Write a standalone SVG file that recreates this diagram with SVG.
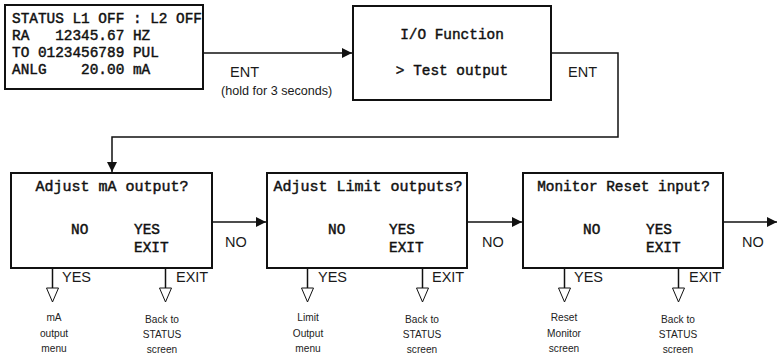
<svg xmlns="http://www.w3.org/2000/svg" width="778" height="357" viewBox="0 0 778 357">
<style>
.mono{font-family:"Liberation Mono","Courier New",monospace;font-size:14.4px;fill:#111;stroke:#111;stroke-width:0.45;white-space:pre}
.box{fill:#fff;stroke:#111;stroke-width:2}
.lbl{font-family:"Liberation Sans",Arial,sans-serif;font-size:14.5px;fill:#1a1a1a}
.sm{font-family:"Liberation Sans",Arial,sans-serif;font-size:11.8px;fill:#222;text-anchor:middle}
.ln{fill:none;stroke:#111;stroke-width:1.5}
.tri{fill:#fff;stroke:#111;stroke-width:1}
</style>
<defs>
<marker id="ah" markerWidth="10" markerHeight="10" refX="10" refY="5" orient="auto" markerUnits="userSpaceOnUse">
<path d="M0,0 L10,5 L0,10 Z" fill="#111"/>
</marker>
</defs>
<rect width="778" height="357" fill="#fff"/>
<g id="connectors">
<path class="ln" d="M203,53 H352" marker-end="url(#ah)"/>
<path class="ln" d="M551,53 H618 V137 H112 V172" marker-end="url(#ah)"/>
<path class="ln" d="M212,222 H266" marker-end="url(#ah)"/>
<path class="ln" d="M467,222 H522" marker-end="url(#ah)"/>
<path class="ln" d="M723,222 H777" marker-end="url(#ah)"/>
<text class="lbl" x="230" y="77">ENT</text>
<text class="lbl" x="221" y="95" style="font-size:12.6px">(hold for 3 seconds)</text>
<text class="lbl" x="568" y="77">ENT</text>
<text class="lbl" x="225" y="247">NO</text>
<text class="lbl" x="482" y="247">NO</text>
<text class="lbl" x="742" y="247">NO</text>
<path class="ln" d="M52.5,268 V288"/><polygon class="tri" points="46.5,288 58.5,288 52.5,302"/>
<path class="ln" d="M165.5,268 V288"/><polygon class="tri" points="159.5,288 171.5,288 165.5,302"/>
<path class="ln" d="M307.5,268 V288"/><polygon class="tri" points="301.5,288 313.5,288 307.5,302"/>
<path class="ln" d="M422.5,268 V288"/><polygon class="tri" points="416.5,288 428.5,288 422.5,302"/>
<path class="ln" d="M564.5,268 V288"/><polygon class="tri" points="558.5,288 570.5,288 564.5,302"/>
<path class="ln" d="M678.5,268 V288"/><polygon class="tri" points="672.5,288 684.5,288 678.5,302"/>
<text class="lbl" x="62" y="282">YES</text>
<text class="lbl" x="176" y="282">EXIT</text>
<text class="lbl" x="318" y="282">YES</text>
<text class="lbl" x="432" y="282">EXIT</text>
<text class="lbl" x="574" y="282">YES</text>
<text class="lbl" x="689" y="282">EXIT</text>
</g>
<g id="status">
<rect class="box" x="5" y="5" width="198" height="84" stroke-width="1.8"/>
<text class="mono" x="12" y="22.5" xml:space="preserve">STATUS L1 OFF : L2 OFF</text>
<text class="mono" x="12" y="39.5" xml:space="preserve">RA   12345.67 HZ</text>
<text class="mono" x="12" y="56.5" xml:space="preserve">TO 0123456789 PUL</text>
<text class="mono" x="12" y="73.5" xml:space="preserve">ANLG    20.00 mA</text>
</g>
<g id="io">
<rect class="box" x="353" y="6" width="198" height="94" stroke-width="3"/>
<text class="mono" x="452" y="39" text-anchor="middle" xml:space="preserve">I/O Function</text>
<text class="mono" x="452" y="75" text-anchor="middle" xml:space="preserve">&gt; Test output</text>
</g>
<g id="adjust-ma">
<rect class="box" x="11" y="173" width="201" height="95"/>
<text class="mono" x="112" y="191" text-anchor="middle" style="font-size:15px" xml:space="preserve">Adjust mA output?</text>
<text class="mono" x="71" y="234">NO</text>
<text class="mono" x="134" y="234">YES</text>
<text class="mono" x="134" y="252">EXIT</text>
</g>
<g id="adjust-limit">
<rect class="box" x="267" y="173" width="200" height="95"/>
<text class="mono" x="368" y="191" text-anchor="middle" style="font-size:15px" xml:space="preserve">Adjust Limit outputs?</text>
<text class="mono" x="328" y="234">NO</text>
<text class="mono" x="389" y="234">YES</text>
<text class="mono" x="389" y="252">EXIT</text>
</g>
<g id="monitor-reset">
<rect class="box" x="523" y="173" width="200" height="95"/>
<text class="mono" x="623.5" y="191" text-anchor="middle" xml:space="preserve">Monitor Reset input?</text>
<text class="mono" x="583" y="234">NO</text>
<text class="mono" x="646" y="234">YES</text>
<text class="mono" x="646" y="252">EXIT</text>
</g>
<g id="ma-menu" transform="translate(54 0) scale(0.86 1)">
<text class="sm" x="0" y="321">mA</text>
<text class="sm" x="0" y="337">output</text>
<text class="sm" x="0" y="352">menu</text>
</g>
<g id="back1" transform="translate(162 0) scale(0.86 1)">
<text class="sm" x="0" y="323">Back to</text>
<text class="sm" x="0" y="338">STATUS</text>
<text class="sm" x="0" y="353">screen</text>
</g>
<g id="limit-menu" transform="translate(308 0) scale(0.86 1)">
<text class="sm" x="0" y="321">Limit</text>
<text class="sm" x="0" y="337">Output</text>
<text class="sm" x="0" y="352">menu</text>
</g>
<g id="back2" transform="translate(422 0) scale(0.86 1)">
<text class="sm" x="0" y="323">Back to</text>
<text class="sm" x="0" y="338">STATUS</text>
<text class="sm" x="0" y="353">screen</text>
</g>
<g id="reset-screen" transform="translate(564 0) scale(0.86 1)">
<text class="sm" x="0" y="321">Reset</text>
<text class="sm" x="0" y="337">Monitor</text>
<text class="sm" x="0" y="352">screen</text>
</g>
<g id="back3" transform="translate(678 0) scale(0.86 1)">
<text class="sm" x="0" y="323">Back to</text>
<text class="sm" x="0" y="338">STATUS</text>
<text class="sm" x="0" y="353">screen</text>
</g>
</svg>
